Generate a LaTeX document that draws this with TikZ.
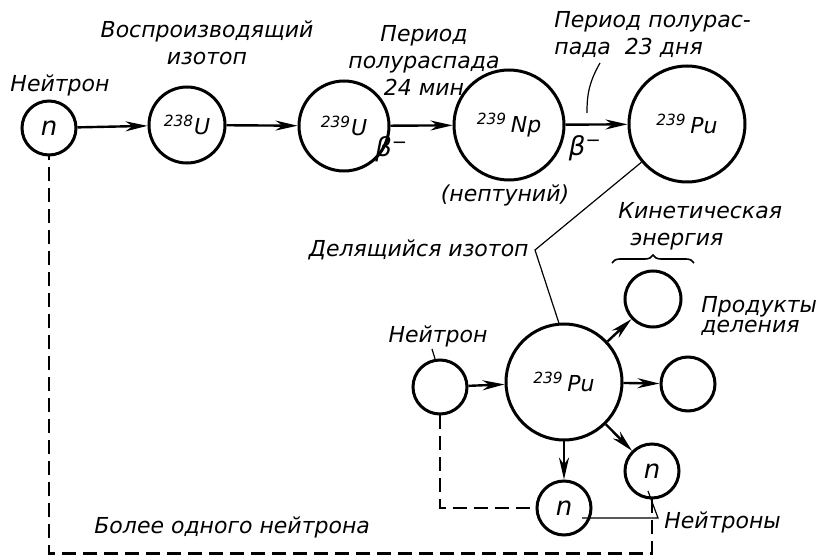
\documentclass[tikz,border=0pt]{standalone}
\usepackage{fontspec}
\setmainfont{DejaVu Sans}
\usetikzlibrary{positioning, arrows.meta, decorations.pathreplacing}

\begin{document}
\begin{tikzpicture}[
  x=0.5pt, y=-0.5pt,
  nucl/.style={draw, circle, line width=1.5pt, minimum size=#1, inner sep=0pt,
    font=\itshape\fontsize{11}{12}\selectfont},
  neut/.style={nucl={27pt}, font=\itshape\fontsize{13}{14}\selectfont},
  arr/.style={-{Stealth[length=11pt,width=5pt,inset=3.5pt]}, line width=1.2pt},
  leader/.style={line width=0.6pt},
  feedback/.style={dash pattern=on 7pt off 3.5pt, line width=1.2pt},
  lbl/.style={font=\itshape\fontsize{11}{13.5}\selectfont, inner sep=1pt},
  beta/.style={font=\itshape\fontsize{13}{14}\selectfont, inner sep=1pt}
]
\useasboundingbox (0,0) rectangle (816,556);

% цепочка образования плутония
\node[neut] (n0) at (49,128) {n};
\node[nucl={38pt}] (u238) at (187,125) {\textsuperscript{238}U};
\node[nucl={45pt}] (u239) at (344,126) {\textsuperscript{239}U};
\node[nucl={55pt}] (np) at (509,125) {\textsuperscript{239}\,Np};
\node[nucl={58pt}] (pu) at (687,124) {\textsuperscript{239}\,Pu};

\draw[arr] (n0) -- (u238);
\draw[arr] (u238) -- (u239);
\draw[arr] (u239) -- (np) node[beta, pos=0.02, below=4pt] {β\textsuperscript{−}};
\draw[arr] (np) -- (pu) node[beta, pos=0.32, below=4pt] {β\textsuperscript{−}};

\node[lbl] (nlbl) at (60,85) {Нейтрон};
\node[lbl, align=center] (breed) at (207,43) {Воспроизводящий\\изотоп};
\node[lbl, align=center] (per1) at (424,60) {Период\\полураспада\\24 мин};
\node[lbl, align=left, anchor=west] (per2) at (552,35) {Период полурас-\\пада \ 23 дня};
\node[lbl] (nept) at (505,195) {(нептуний)};

\coordinate (ht) at (600,63);
\coordinate (hb) at (587,113);
\draw[leader] (ht) to[bend right=15] (hb);

% деление
\node[nucl={58pt}] (pu2) at (564,382) {\textsuperscript{239}\,Pu};
\node[nucl={27pt}] (nin) at (440,387) {};
\node[nucl={28pt}] (fp1) at (653,299) {};
\node[nucl={27pt}] (fp2) at (688,384) {};
\node[neut] (nr) at (652,471) {n};
\node[neut] (nb) at (564,508) {n};

\draw[arr] (nin) -- (pu2);
\draw[arr] (pu2) -- (fp1);
\draw[arr] (pu2) -- (fp2);
\draw[arr] (pu2) -- (nr);
\draw[arr] (pu2) -- (nb);

\node[lbl, anchor=east] (fiss) at (531,250) {Делящийся изотоп};
\coordinate (fv) at (535,250);
\draw[leader] (pu.220) -- (fv) -- (pu2.95);

\node[lbl, align=left, anchor=west] (kin) at (616,226) {Кинетическая\\\hspace*{6pt}энергия};
\draw[leader, line width=0.8pt, decorate, decoration={brace, amplitude=4pt}]
  (612,263) -- (694,263);
\node[lbl, align=left, anchor=west, font=\itshape\fontsize{11}{10}\selectfont]
  (prod) at (699,316) {Продукты\\деления};

\node[lbl] (ninlbl) at (438,336) {Нейтрон};
\draw[leader] ([xshift=-3pt]ninlbl.south) -- (nin.100);

\node[lbl, anchor=west] (nrs) at (662,522) {Нейтроны};
\coordinate (nv) at (658,518);
\draw[leader] ([xshift=9pt,yshift=-5pt]nb.center) -- (nv) -- ([xshift=-2pt,yshift=-10pt]nr.center);

% обратная связь по нейтронам
\draw[feedback] (nin.south) |- (nb.west);
\draw[feedback] (nr.south) -- ++(0,54) -| (n0.south);
\node[lbl, anchor=west] (more) at (92,527) {Более одного нейтрона};

\end{tikzpicture}
\end{document}
